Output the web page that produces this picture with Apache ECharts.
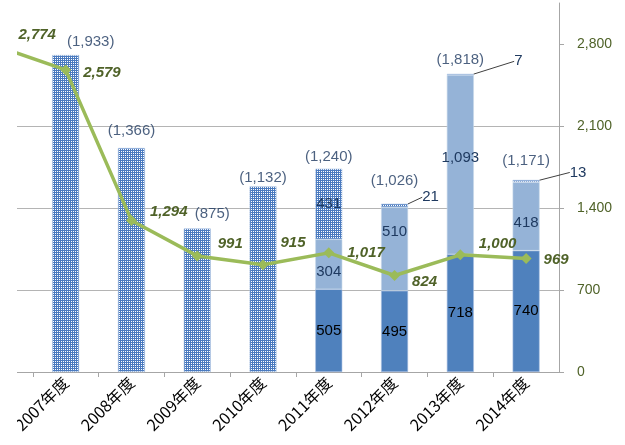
<!DOCTYPE html>
<html>
<head>
<meta charset="utf-8">
<script src="https://cdn.jsdelivr.net/npm/echarts@6/dist/echarts.min.js"></script>
<style>
  html, body { margin: 0; padding: 0; background: #fff; }
  #chart { width: 625px; height: 445px; }
</style>
</head>
<body>
<div id="chart"></div>
<script>
// 年度 (2006年度 is only where the line starts, cut off at the left edge)
const years = ['2006年度', '2007年度', '2008年度', '2009年度', '2010年度', '2011年度', '2012年度', '2013年度', '2014年度']
// 棒グラフ（左軸・非表示）
const darkValues = [null, null, null, null, null, 505, 495, 718, 740]
const lightValues = [null, null, null, null, null, 304, 510, 1093, 418]
const dotValues = [null, 1933, 1366, 875, 1132, 431, 21, 7, 13]
// 折れ線（右軸）
const lineValues = [2774, 2579, 1294, 991, 915, 1017, 824, 1000, 969]
const rightTicks = [0, 700, 1400, 2100, 2800]

// label nudges (px), style only
const totalOffsets = [null, [25, 0], [0, -4], [15, -2], [0, 5], [0, 1], [0, -10], [0, -1], [0, -6]]
const lightOffsets = [null, null, null, null, null, [0, 8], [0, -17], [0, -7], [0, 6]]
const dotShift = { 6: [36, 6], 7: [58, 0], 8: [52, 5] }
const lineOffsets = [[13, -12], [12, 3], [13, -9], [15, -12], [12, -22], [13, 0], [12, 6], [13, -11], [12, 1]]

const numFont = 'Liberation Sans'
const fmt = (v) => Number(v).toLocaleString('en-US')

// 合計 = 各セグメントの和
const totals = years.map((y, i) => {
  const s = (darkValues[i] || 0) + (lightValues[i] || 0) + (dotValues[i] || 0)
  return s || null
})

// x positions: category index, labels at centres, ticks between them
const labelPos = years.map((y, i) => i).filter((i) => i > 0)
const tickPos = labelPos.map((i) => i - 0.5)

// dotted fill like the Excel pattern
function dotPattern() {
  const c = document.createElement('canvas')
  c.width = 2
  c.height = 2
  const ctx = c.getContext('2d')
  ctx.fillStyle = '#4a7abf'
  ctx.fillRect(0, 0, 2, 2)
  ctx.fillStyle = '#ffffff'
  ctx.fillRect(1, 1, 1, 1)
  return c
}

const chart = echarts.init(document.getElementById('chart'))

// bar data as [value, index] so the stack runs on the value dimension
const barEncode = { x: 1, y: 0 }
const darkData = darkValues.map((v, i) => [v, i])

const lightData = lightValues.map((v, i) => ({
  value: [v, i],
  label: { offset: lightOffsets[i] || [0, 0] }
}))

const dotData = dotValues.map((v, i) => {
  if (i === 5) {
    return { value: [v, i], label: { position: 'inside', offset: [0, -6] } }
  }
  if (i < 5) {
    return { value: [v, i], label: { show: false } }
  }
  return { value: [v, i] }
})

const totalData = totals.map((v, i) => ({
  value: [i, v],
  label: { offset: totalOffsets[i] || [0, 0] }
}))

const lineData = lineValues.map((v, i) => ({
  value: [i, v],
  label: { offset: lineOffsets[i] }
}))

const barLabel = (color) => ({
  show: true,
  position: 'inside',
  color: color,
  fontSize: 15,
  fontFamily: numFont,
  formatter: (p) => fmt(p.value[0])
})

const option = {
  animation: false,
  grid: { left: 17, right: 66, top: 3, bottom: 73 },
  xAxis: {
    type: 'value',
    min: 0.26,
    max: 8.5,
    axisLine: { show: true, onZero: false, lineStyle: { color: '#a6a6a6', width: 1 } },
    axisTick: { show: true, length: 5, customValues: tickPos, lineStyle: { color: '#a6a6a6' } },
    axisLabel: {
      customValues: labelPos,
      rotate: 45,
      margin: 8,
      color: '#000',
      fontSize: 16,
      fontFamily: 'Noto Sans CJK JP',
      formatter: (v) => years[Math.round(v)] || ''
    },
    splitLine: { show: false }
  },
  yAxis: [
    {
      // 右軸 (折れ線)
      type: 'value',
      position: 'right',
      min: 0,
      max: 3150,
      interval: 700,
      axisLine: { show: true, lineStyle: { color: '#a6a6a6' } },
      axisTick: { show: true, length: 5, customValues: rightTicks, lineStyle: { color: '#a6a6a6' } },
      axisLabel: {
        customValues: rightTicks,
        margin: 18,
        color: '#4f6228',
        fontSize: 14,
        fontFamily: numFont,
        formatter: fmt
      },
      splitLine: { show: true, showMaxLine: false, lineStyle: { color: '#b4b4b4', width: 1 } }
    },
    {
      // 左軸 (棒) - hidden
      type: 'value',
      position: 'left',
      min: 0,
      max: 2250,
      show: false,
      splitLine: { show: false }
    }
  ],
  graphic: [
    {
      type: 'rect',
      left: 0,
      top: 0,
      z: 100,
      shape: { width: 17, height: 445 },
      style: { fill: '#ffffff' }
    }
  ],
  series: [
    {
      name: 'dark',
      type: 'bar',
      stack: 'total',
      yAxisIndex: 1,
      encode: barEncode,
      barWidth: 27,
      data: darkData,
      itemStyle: { color: '#4f81bd', borderColor: '#a9c0e0', borderWidth: 0.6 },
      label: barLabel('#000')
    },
    {
      name: 'light',
      type: 'bar',
      stack: 'total',
      yAxisIndex: 1,
      encode: barEncode,
      barWidth: 27,
      data: lightData,
      itemStyle: { color: '#95b3d7', borderColor: '#c6d6ea', borderWidth: 0.6 },
      label: barLabel('#1f3a60')
    },
    {
      name: 'dotted',
      type: 'bar',
      stack: 'total',
      yAxisIndex: 1,
      encode: barEncode,
      barWidth: 27,
      data: dotData,
      itemStyle: { color: { image: dotPattern(), repeat: 'repeat' }, borderColor: '#b9cde5', borderWidth: 0.6 },
      label: Object.assign(barLabel('#1f3a60'), { position: 'top' }),
      labelLine: { show: true, length2: 0, lineStyle: { color: '#404040', width: 1 } },
      labelLayout: (p) => {
        const s = dotShift[p.dataIndex]
        return s ? { dx: s[0], dy: s[1] } : {}
      }
    },
    {
      name: 'totals',
      type: 'scatter',
      yAxisIndex: 1,
      symbolSize: 1,
      itemStyle: { color: 'rgba(0,0,0,0)' },
      data: totalData,
      z: 4,
      label: {
        show: true,
        position: 'top',
        distance: 5,
        color: '#1f3a60',
        fontSize: 15,
        fontFamily: numFont,
        formatter: (p) => (p.value[1] ? '(' + fmt(p.value[1]) + ')' : '')
      }
    },
    {
      name: 'line',
      type: 'line',
      yAxisIndex: 0,
      data: lineData,
      clip: false,
      z: 5,
      symbol: 'diamond',
      symbolSize: 11,
      lineStyle: { color: '#9bbb59', width: 3.5 },
      itemStyle: { color: '#9bbb59' },
      label: {
        show: true,
        position: 'right',
        distance: 0,
        color: '#4f6228',
        fontSize: 15,
        fontWeight: 'bold',
        fontStyle: 'italic',
        fontFamily: numFont,
        formatter: (p) => fmt(p.value[1])
      }
    }
  ]
}

chart.setOption(option)
</script>
</body>
</html>
